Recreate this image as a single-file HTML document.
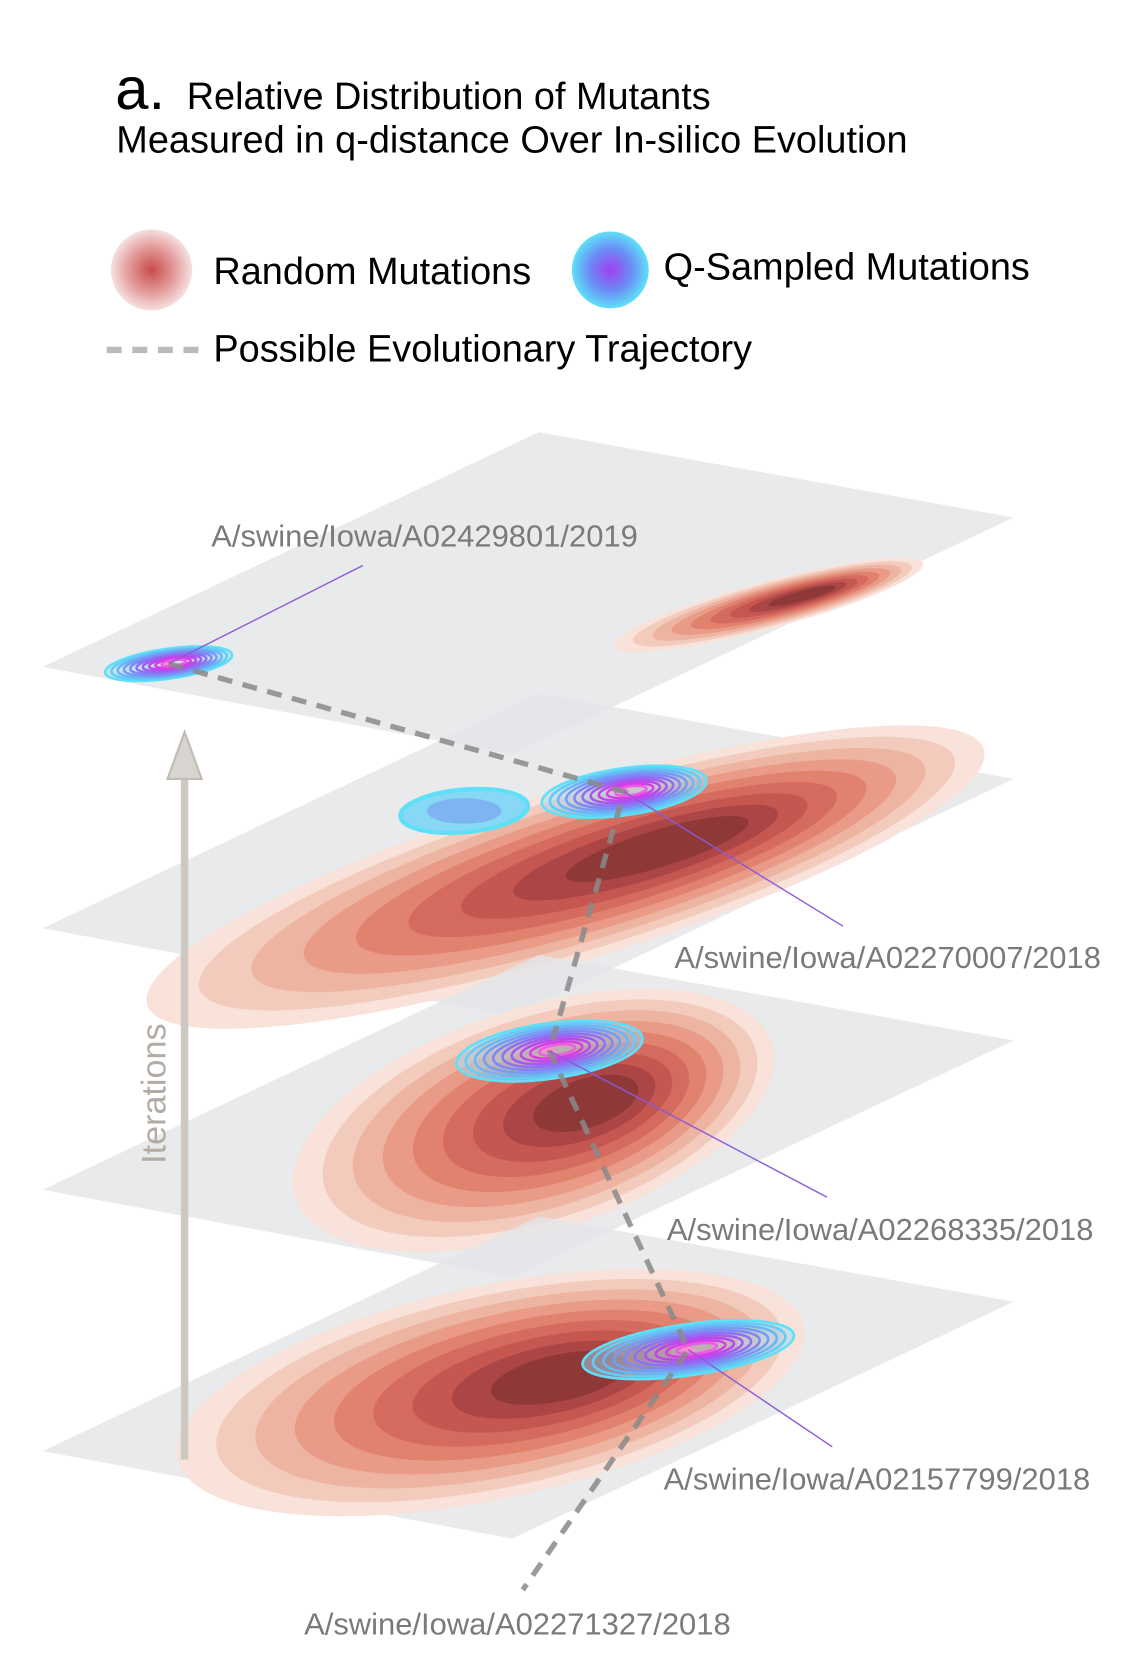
<!DOCTYPE html>
<html><head><meta charset="utf-8"><style>
body{margin:0;background:#fff}
svg{display:block;font-family:"Liberation Sans",Arial,sans-serif}
</style></head><body>
<svg id="c" width="1134" height="1664" viewBox="0 0 1134 1664">
<defs>
<radialGradient id="gRed"><stop offset="0" stop-color="#c84b4b"/><stop offset="0.6" stop-color="#e5a0a0"/><stop offset="1" stop-color="#f6e0e0"/></radialGradient>
<radialGradient id="gBlue"><stop offset="0" stop-color="#a040f0"/><stop offset="0.55" stop-color="#6a8cf6"/><stop offset="1" stop-color="#5fe0f7"/></radialGradient>
</defs>
<g transform="scale(1.067)">
<g>
<text x="108" y="102" font-size="56" fill="#000">a.</text>
<text x="175" y="102" font-size="35.5" fill="#000">Relative Distribution of Mutants</text>
<text x="109" y="143" font-size="35.5" fill="#000">Measured in q-distance Over In-silico Evolution</text>
</g>
<g>
<circle cx="142" cy="253" r="38" fill="url(#gRed)"/>
<text x="200" y="266" font-size="35.5">Random Mutations</text>
<circle cx="572" cy="253" r="36" fill="url(#gBlue)"/>
<text x="622" y="262" font-size="35.5">Q-Sampled Mutations</text>
<line x1="100" y1="328" x2="186" y2="328" stroke="#bbb" stroke-width="6" stroke-dasharray="14 10"/>
<text x="200" y="339" font-size="35.5">Possible Evolutionary Trajectory</text>
</g>
<g id="layers"></g>
<g id="overlay"></g>
</g>
</svg>
<script>
// data arrays (per layer, top to bottom; positions relative to each plane's left corner)
const planeY = [625, 870, 1115, 1360];
const redDx = [680, 490, 460, 420];
const redDy = [-58, -48, -65, -55];
const redRx = [150, 410, 235, 300];
const redRy = [22, 80, 105, 100];
const redRot = [-15, -17, -18, -12];
const blueDx = [118, 545, 475, 605];
const blueDy = [-3, -128, -130, -95];
const blueRx = [60, 78, 88, 100];
const blueRy = [14, 22, 26, 24];
const labels = ["A/swine/Iowa/A02429801/2019","A/swine/Iowa/A02270007/2018","A/swine/Iowa/A02268335/2018","A/swine/Iowa/A02157799/2018"];
const labelX = [198, 632, 625, 622];
const labelY = [512, 907, 1162, 1396];
const leaderX = [340, 790, 775, 780];
const leaderY = [530, 868, 1122, 1356];
const redLevels = ['#f8e2d9','#f3cbbc','#eeb4a2','#e99b88','#e1826f','#d56a5e','#c55750','#ac4545','#8e3838'];
const blueLevels = ['#5fe0f7','#62cdf6','#6ab6f6','#739ef6','#7f88f6','#8d72f4','#a25cf1','#bb48ee','#d63ee8','#f05ae6'];

const NS='http://www.w3.org/2000/svg';
const layersG=document.getElementById('layers');
const overlay=document.getElementById('overlay');
function mk(tag,attrs,parent){const e=document.createElementNS(NS,tag);for(const k in attrs)e.setAttribute(k,attrs[k]);parent.appendChild(e);return e;}
function px(i,dx){return 40+dx;}
function py(i,dy){return planeY[i]+dy;}

const traj=[];
for(let i=0;i<planeY.length;i++){
  const g=mk('g',{},layersG);
  
  
  const y0=planeY[i];
  const plane=mk('polygon',{points:`40,${y0} 505,${y0-220} 950,${y0-140} 480,${y0+82}`,fill:'#e3e5e8','fill-opacity':'0.82'},g);
  
  
  const cx=px(i,redDx[i]), cy=py(i,redDy[i]);
  const n=redLevels.length;
  for(let k=0;k<n;k++){
    const f=1-k/n*0.88;
    const e=mk('ellipse',{cx:cx+(1-f)*redRx[i]*0.28, cy:cy, rx:redRx[i]*f, ry:redRy[i]*f, fill:redLevels[k], transform:`rotate(${redRot[i]} ${cx} ${cy})`},g);
    
    
  }
  const bx=px(i,blueDx[i]), by=py(i,blueDy[i]);
  traj.push([bx,by]);
  if(i===1){
    const s=mk('ellipse',{cx:bx-150,cy:by+18,rx:60,ry:20,fill:'#86d8f4',stroke:'#5fe0f7','stroke-width':4,transform:`rotate(-5 ${bx-150} ${by+18})`},g);
    
    
    const s2=mk('ellipse',{cx:bx-150,cy:by+18,rx:35,ry:12,fill:'#7fb4f2'},g);
    
    
  }
  const m=blueLevels.length;
  const bg=mk('ellipse',{cx:bx,cy:by,rx:blueRx[i],ry:blueRy[i],fill:'#9fdcf6','fill-opacity':0.5,transform:`rotate(-8 ${bx} ${by})`},g);
  
  
  for(let k=0;k<m;k++){
    const f=1-k/m*0.9;
    const e=mk('ellipse',{cx:bx+(1-f)*blueRx[i]*0.1,cy:by,rx:blueRx[i]*f,ry:blueRy[i]*f,fill:'none',stroke:blueLevels[k],'stroke-width':2.4,transform:`rotate(-8 ${bx} ${by})`},g);
    
    
  }
  const core=mk('ellipse',{cx:bx,cy:by,rx:blueRx[i]*0.07,ry:blueRy[i]*0.1,fill:'#ff8ad8'},g);
  
  
}
const arr=mk('line',{x1:173,y1:1368,x2:173,y2:712,stroke:'#cdc8c2','stroke-width':7},overlay);


const head=mk('polygon',{points:'173,686 157,730 189,730',fill:'#d8d4cf',stroke:'#c2bcb5','stroke-width':2},overlay);


const it=mk('text',{x:0,y:0,'font-size':32,fill:'#b3aca5','text-anchor':'middle',transform:'translate(155,1025) rotate(-90)'},overlay);
it.textContent='Iterations';


const start=[490,1490];
const pts=traj.map(p=>p.join(',')).join(' ')+' '+start.join(',');
const tl=mk('polyline',{points:pts,fill:'none',stroke:'#8a8a8a','stroke-opacity':0.85,'stroke-width':5,'stroke-dasharray':'14 10'},overlay);


for(let i=0;i<labels.length;i++){
  const l=mk('line',{x1:traj[i][0],y1:traj[i][1],x2:leaderX[i],y2:leaderY[i],stroke:'#8a5ad8','stroke-width':1.3},overlay);
  
  
  const t=mk('text',{x:labelX[i],y:labelY[i],'font-size':29,fill:'#7a7a7a'},overlay);
  t.textContent=labels[i];
  
  
}
const bt=mk('text',{x:285,y:1532,'font-size':29,fill:'#7a7a7a'},overlay);
bt.textContent='A/swine/Iowa/A02271327/2018';


</script>
</body></html>
